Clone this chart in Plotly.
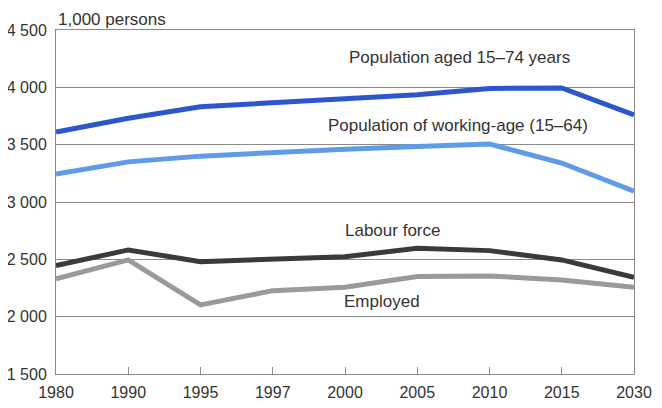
import plotly.graph_objects as go

years = ["1980", "1990", "1995", "1997", "2000", "2005", "2010", "2015", "2030"]

pop_15_74 = [3610, 3730, 3830, 3865, 3895, 3935, 3990, 3995, 3760]
pop_working_age = [3245, 3350, 3400, 3435, 3460, 3485, 3505, 3340, 3095]
labour_force = [2445, 2582, 2480, 2500, 2523, 2597, 2576, 2495, 2344]
employed = [2330, 2495, 2102, 2227, 2256, 2350, 2355, 2320, 2256]

y_ticks = [1500, 2000, 2500, 3000, 3500, 4000, 4500]
y_tick_labels = ["1 500", "2 000", "2 500", "3 000", "3 500", "4 000", "4 500"]

FONT = "Liberation Sans, Arial, sans-serif"
TEXT_COLOR = "#333333"
GRID = "#8a8a8a"

# the page body adds an 8px offset, so the figure is a bit smaller than the window
PAGE_OFFSET = 8

series = [
    (pop_15_74, "#2d55cc", "Population aged 15\u201374 years"),
    (pop_working_age, "#5f9be6", "Population of working-age (15\u201364)"),
    (labour_force, "#3a3a3a", "Labour force"),
    (employed, "#9a9a9a", "Employed"),
]

fig = go.Figure()
for values, color, name in series:
    fig.add_trace(go.Scatter(x=years, y=values, mode="lines", name=name,
                             line=dict(color=color, width=5),
                             showlegend=False))

labels = [
    dict(x=5.58, y=4256, text="Population aged 15\u201374 years"),
    dict(x=5.57, y=3663, text="Population of working-age (15\u201364)"),
    dict(x=4.66, y=2748, text="Labour force"),
    dict(x=4.51, y=2129, text="Employed"),
]
annotations = []
for lab in labels:
    annotations.append(dict(x=lab["x"], y=lab["y"], xref="x", yref="y",
                            text=lab["text"], showarrow=False,
                            font=dict(size=17, color=TEXT_COLOR, family=FONT)))
annotations.append(dict(x=0.0, y=1.0, xref="paper", yref="paper",
                        text="1,000 persons", showarrow=False,
                        xanchor="left", yanchor="bottom", yshift=-1,
                        font=dict(size=17, color=TEXT_COLOR, family=FONT)))

fig.update_layout(
    width=662 - PAGE_OFFSET, height=408 - PAGE_OFFSET,
    margin=dict(l=56 - PAGE_OFFSET, r=28, t=30 - PAGE_OFFSET, b=34),
    plot_bgcolor="white", paper_bgcolor="white",
    font=dict(family=FONT, size=16, color=TEXT_COLOR),
    annotations=annotations,
    xaxis=dict(type="category", range=[0, 8], showgrid=False,
               showline=True, linecolor=GRID, linewidth=1, mirror=True,
               ticks="inside", ticklen=7, tickcolor=GRID, automargin=False,
               ticklabelstandoff=4,
               tickfont=dict(size=16, family=FONT, color=TEXT_COLOR)),
    yaxis=dict(range=[1500, 4500], tickvals=y_ticks, ticktext=y_tick_labels,
               showgrid=True, gridcolor=GRID, gridwidth=1,
               showline=True, linecolor=GRID, linewidth=1, mirror=True,
               zeroline=False, ticks="", automargin=False, ticklabelstandoff=5,
               tickfont=dict(size=16, family=FONT, color=TEXT_COLOR)),
)

fig.write_html("out.html")
